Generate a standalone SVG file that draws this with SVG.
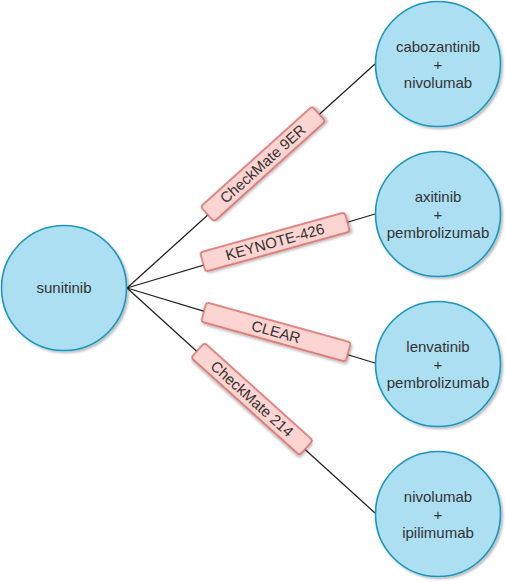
<svg xmlns="http://www.w3.org/2000/svg" width="505" height="582" viewBox="0 0 505 582">
<defs>
<filter id="sh" x="-20%" y="-20%" width="150%" height="150%">
<feDropShadow dx="2" dy="2" stdDeviation="1.2" flood-color="#000" flood-opacity="0.25"/>
</filter>
</defs>
<style>
.node{fill:#abdff1;stroke:#1a96be;stroke-width:1.6;filter:url(#sh)}
.lbl{fill:#fcd4d1;stroke:#d9625d;stroke-width:1.4;filter:url(#sh)}
.edge{stroke:#222;stroke-width:1.3;fill:none}
text{font-family:"Liberation Sans",Arial,sans-serif;font-size:15px;fill:#333;text-anchor:middle}
</style>
<rect width="505" height="582" fill="#fff"/>
<g id="connectors">
<line class="edge" x1="127" y1="288" x2="375" y2="64"/>
<line class="edge" x1="127" y1="288" x2="375" y2="214"/>
<line class="edge" x1="127" y1="288" x2="375" y2="363"/>
<line class="edge" x1="127" y1="288" x2="375" y2="513"/>
</g>
<g id="sunitinib">
<circle class="node" cx="64" cy="288" r="62.5"/>
<text x="64" y="293">sunitinib</text>
</g>
<g id="cabozantinib">
<circle class="node" cx="438" cy="64" r="62.5"/>
<text x="438" y="52">cabozantinib</text>
<text x="438" y="70">+</text>
<text x="438" y="88">nivolumab</text>
</g>
<g id="axitinib">
<circle class="node" cx="438" cy="214" r="62.5"/>
<text x="438" y="202">axitinib</text>
<text x="438" y="220">+</text>
<text x="438" y="238">pembrolizumab</text>
</g>
<g id="lenvatinib">
<circle class="node" cx="438" cy="364" r="62.5"/>
<text x="438" y="352">lenvatinib</text>
<text x="438" y="370">+</text>
<text x="438" y="388">pembrolizumab</text>
</g>
<g id="nivolumab">
<circle class="node" cx="438" cy="514" r="62.5"/>
<text x="438" y="502">nivolumab</text>
<text x="438" y="520">+</text>
<text x="438" y="538">ipilimumab</text>
</g>
<g id="label-checkmate9er" transform="translate(263,164) rotate(-42)">
<rect class="lbl" x="-75" y="-10" width="150" height="20" rx="3"/>
<text x="0" y="5">CheckMate 9ER</text>
</g>
<g id="label-keynote426" transform="translate(275,242) rotate(-15.5)">
<rect class="lbl" x="-75" y="-10" width="150" height="20" rx="3"/>
<text x="0" y="5">KEYNOTE-426</text>
</g>
<g id="label-clear" transform="translate(276,332) rotate(15.5)">
<rect class="lbl" x="-75" y="-10" width="150" height="20" rx="3"/>
<text x="0" y="5">CLEAR</text>
</g>
<g id="label-checkmate214" transform="translate(252,399) rotate(42)">
<rect class="lbl" x="-73" y="-10" width="146" height="20" rx="3"/>
<text x="0" y="5">CheckMate 214</text>
</g>
</svg>
